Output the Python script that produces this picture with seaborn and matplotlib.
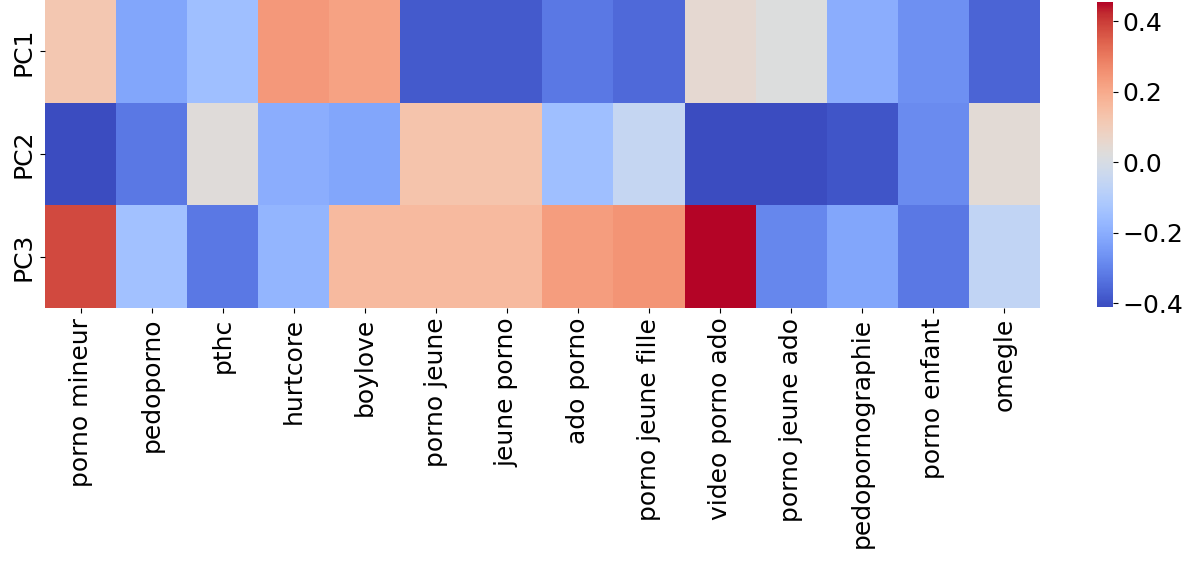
import seaborn as sns
import matplotlib.pyplot as plt
import pandas as pd

terms = ["porno mineur", "pedoporno", "pthc", "hurtcore", "boylove", "porno jeune",
         "jeune porno", "ado porno", "porno jeune fille", "video porno ado",
         "porno jeune ado", "pedopornographie", "porno enfant", "omegle"]
components = ["PC1", "PC2", "PC3"]

pc1 = [0.12, -0.22, -0.15, 0.24, 0.22, -0.38, -0.38, -0.32, -0.35, 0.05, 0.02, -0.20, -0.27, -0.36]
pc2 = [-0.41, -0.32, 0.03, -0.20, -0.22, 0.13, 0.13, -0.15, -0.05, -0.41, -0.41, -0.39, -0.28, 0.04]
pc3 = [0.38, -0.14, -0.32, -0.18, 0.16, 0.16, 0.16, 0.23, 0.25, 0.454, -0.29, -0.22, -0.32, -0.06]

df = pd.DataFrame([pc1, pc2, pc3], index=components, columns=terms)

fig = plt.figure(figsize=(12, 5.85), dpi=100)
ax = fig.add_axes([0.0375, 0.4735, 0.829, 0.5265])
cax = fig.add_axes([0.914, 0.4752, 0.0133, 0.521])
sns.heatmap(df, cmap="coolwarm", ax=ax, cbar_ax=cax, vmin=-0.41, vmax=0.454)
ax.tick_params(axis="x", rotation=90, labelsize=18)
ax.tick_params(axis="y", rotation=90, labelsize=18)
cax.tick_params(labelsize=18)
cax.set_yticks([-0.4, -0.2, 0.0, 0.2, 0.4])
cax.set_yticklabels(["\u22120.4", "\u22120.2", "0.0", "0.2", "0.4"])
for t in ax.get_yticklabels():
    t.set_va("center")
fig.savefig("out.png")
